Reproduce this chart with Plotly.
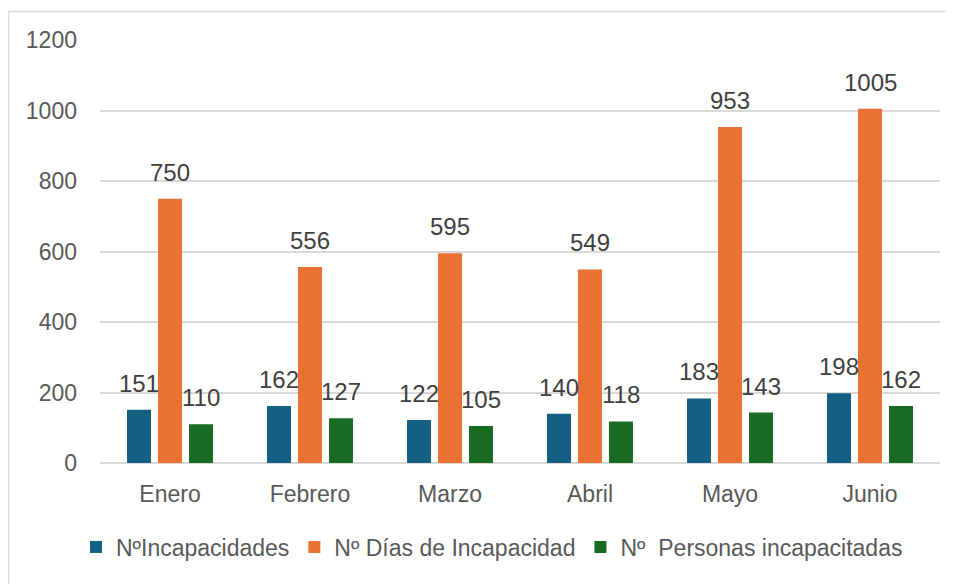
import plotly.graph_objects as go

months = ["Enero", "Febrero", "Marzo", "Abril", "Mayo", "Junio"]
incapacidades = [151, 162, 122, 140, 183, 198]
dias = [750, 556, 595, 549, 953, 1005]
personas = [110, 127, 105, 118, 143, 162]
series_names = ["NºIncapacidades", "Nº Días de Incapacidad", "Nº  Personas incapacitadas"]
colors = ["#156082", "#E97132", "#196B24"]
y_ticks = [0, 200, 400, 600, 800, 1000, 1200]

FONT = "Liberation Sans"
# page body has an 8px margin, so the figure is drawn 8px in from the window corner
OFF = 8
W, H = 954 - OFF, 584 - OFF
l, r, t, b = 100 - OFF, 14, 40 - OFF, 121
pw, ph = W - l - r, H - t - b

def px_x(x):
    return (x - OFF - l) / pw

def px_y(y):
    return (H - b - (y - OFF)) / ph

fig = go.Figure()
series = [incapacidades, dias, personas]
slot = 31  # px between bar centres within a group
for i, (name, vals, col) in enumerate(zip(series_names, series, colors)):
    fig.add_trace(go.Bar(
        x=months, y=vals, name=name, marker=dict(color=col, line=dict(width=0)),
    ))
    for m, v in zip(months, vals):
        fig.add_annotation(x=m, y=v, text=str(v), showarrow=False,
                           xanchor="center", yanchor="bottom",
                           xshift=(i - 1) * slot, yshift=11,
                           font=dict(family=FONT, size=24, color="#404040"))

fig.update_layout(
    width=W, height=H,
    margin=dict(l=l, r=r, t=t, b=b),
    paper_bgcolor="white", plot_bgcolor="white",
    barmode="group", bargap=0.336, bargroupgap=0.226,
    font=dict(family=FONT, size=22, color="#595959"),
    legend=dict(orientation="h", x=px_x(492), xanchor="center",
                y=px_y(547), yanchor="middle",
                font=dict(family=FONT, size=23, color="#595959"),
                itemwidth=30, traceorder="normal"),
    xaxis=dict(showgrid=False, showline=False, ticks="", ticklabelstandoff=15,
               tickfont=dict(family=FONT, size=23, color="#595959")),
    yaxis=dict(range=[0, 1200], tickvals=y_ticks, showgrid=True, gridcolor="#D9D9D9",
               gridwidth=1.5, zeroline=True, zerolinecolor="#D9D9D9", zerolinewidth=1.5,
               showline=False, ticks="", ticklabelstandoff=22,
               tickfont=dict(family=FONT, size=23, color="#595959")),
    shapes=[
        dict(type="line", xref="paper", yref="paper",
             x0=px_x(8.5), x1=px_x(970), y0=px_y(11.5), y1=px_y(11.5),
             line=dict(color="#D9D9D9", width=1.5)),
        dict(type="line", xref="paper", yref="paper",
             x0=px_x(8.5), x1=px_x(8.5), y0=px_y(11.5), y1=px_y(600),
             line=dict(color="#D9D9D9", width=1.5)),
    ],
)

fig.write_html("out.html")
